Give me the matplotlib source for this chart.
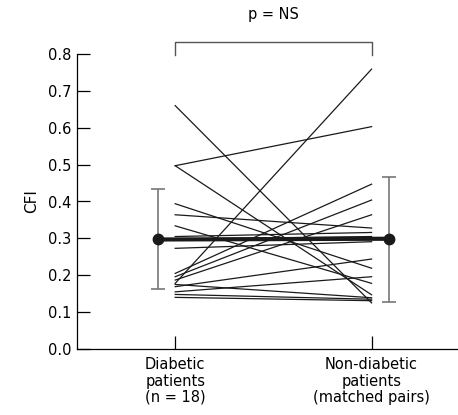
import matplotlib
matplotlib.use('Agg')
import matplotlib.pyplot as plt
import numpy as np

# CFI per paziente (diabetici) e coppia abbinata (non diabetici)
diabetic = [0.660, 0.497, 0.497, 0.394, 0.364, 0.334, 0.305, 0.298, 0.273,
            0.205, 0.196, 0.187, 0.178, 0.175, 0.169, 0.155, 0.148, 0.140]
non_diabetic = [0.125, 0.603, 0.147, 0.219, 0.328, 0.178, 0.316, 0.305, 0.291,
                0.447, 0.404, 0.364, 0.759, 0.139, 0.244, 0.196, 0.135, 0.131]

# medie e intervallo (barre di errore)
means = [0.297, 0.299]
err_low = [0.162, 0.127]
err_high = [0.435, 0.466]

group_labels = ["Diabetic\npatients\n(n = 18)", "Non-diabetic\npatients\n(matched pairs)"]
y_ticks = [0.0, 0.1, 0.2, 0.3, 0.4, 0.5, 0.6, 0.7, 0.8]
p_text = "p = NS"

fig = plt.figure(figsize=(4.58, 4.15), dpi=100)
ax = fig.add_axes([77 / 458, 1 - 349 / 415, (458 - 77) / 458, (349 - 54) / 415])

# linee appaiate
for a, b in zip(diabetic, non_diabetic):
    ax.plot([0, 1], [a, b], color='#1a1a1a', lw=0.9, zorder=2)

# medie con barre di errore
mean_x = [-0.09, 1.09]
ax.plot(mean_x, means, color='#1a1a1a', lw=3, zorder=3)
yerr = [[m - lo for m, lo in zip(means, err_low)],
        [hi - m for m, hi in zip(means, err_high)]]
ax.errorbar(mean_x, means, yerr=yerr, fmt='none', ecolor='#777777',
            elinewidth=1.2, capsize=5, capthick=1.2, zorder=1)
ax.plot(mean_x, means, 'o', color='#1a1a1a', ms=7.5, zorder=4)

ax.set_xlim(-0.5, 1.44)
ax.set_ylim(0, 0.8)
ax.set_yticks(y_ticks)
ax.set_yticklabels([f"{t:.1f}" for t in y_ticks])
ax.set_xticks([0, 1])
ax.set_xticklabels(group_labels, linespacing=1.1)
ax.tick_params(direction='in', length=9.5, width=0.9, labelsize=10.5, pad=4)
ax.tick_params(axis='x', pad=6)
ax.set_ylabel("CFI", fontsize=11, labelpad=6)
for s in ['top', 'right']:
    ax.spines[s].set_visible(False)
for s in ['left', 'bottom']:
    ax.spines[s].set_linewidth(0.9)

# parentesi di significatività
bracket_y = 0.833
ax.plot([0, 0, 1, 1], [0.798, bracket_y, bracket_y, 0.798], color='#555555',
        lw=1, clip_on=False)
ax.text(0.5, bracket_y + 0.055, p_text, ha='center', va='bottom', fontsize=10.5)

fig.savefig('out.png', dpi=100)
